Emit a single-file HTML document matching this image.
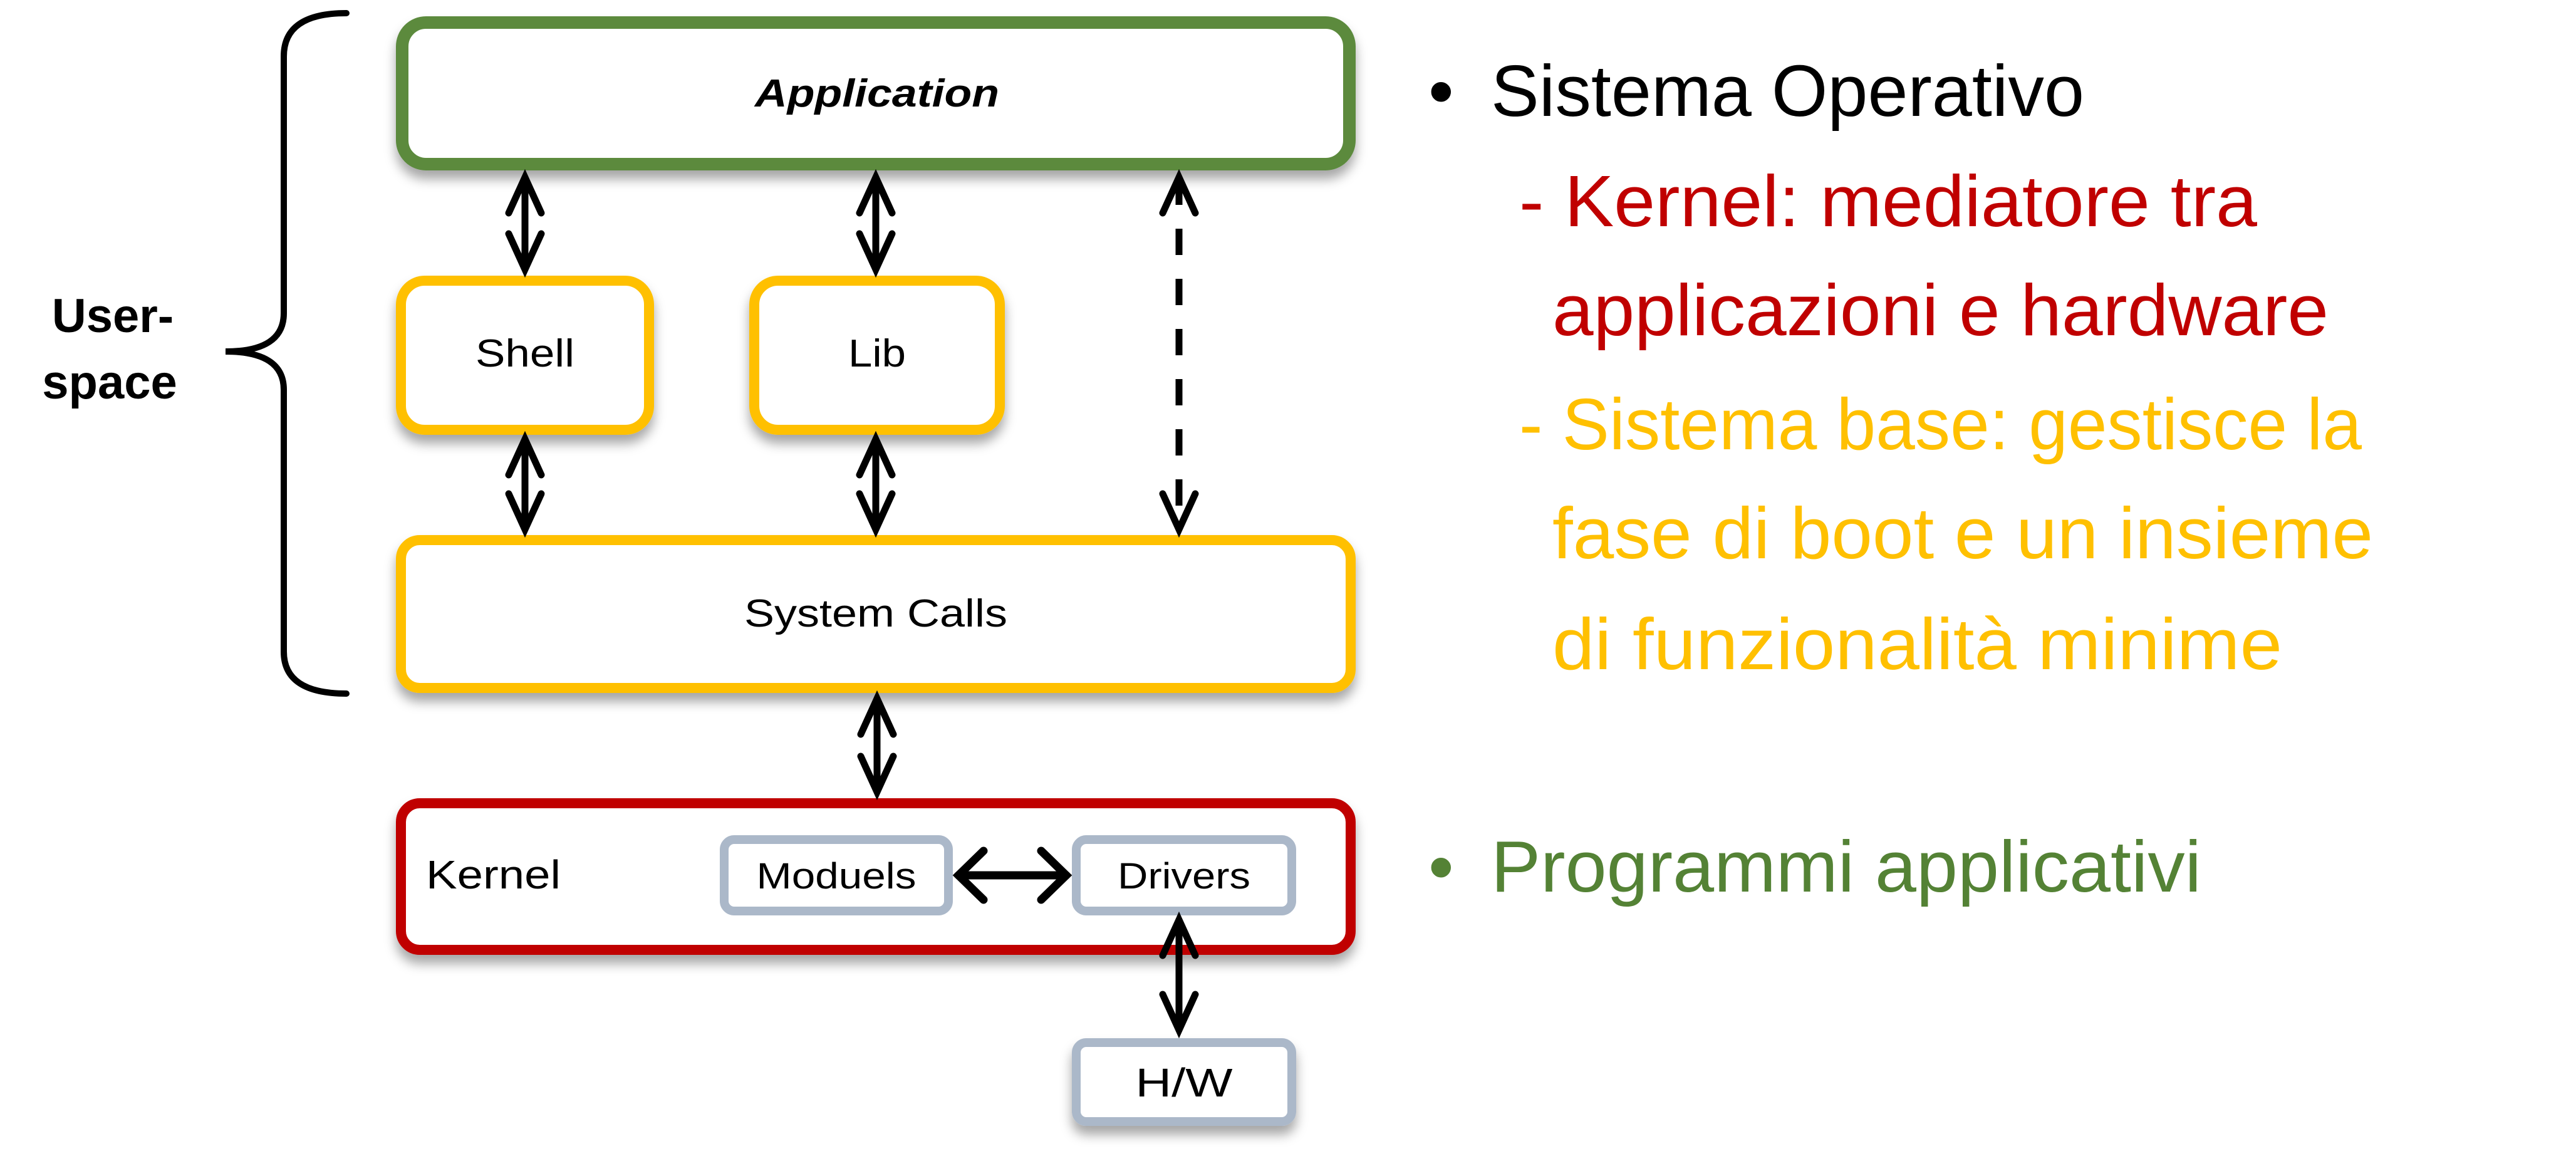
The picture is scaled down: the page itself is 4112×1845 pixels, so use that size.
<!DOCTYPE html>
<html><head><meta charset="utf-8"><style>
html,body{margin:0;padding:0;background:#fff;}
svg{display:block;}
text{font-family:"Liberation Sans",sans-serif;}
</style></head><body>
<svg width="4112" height="1845" viewBox="0 0 4112 1845" xmlns="http://www.w3.org/2000/svg">
<defs>
<filter id="sh" x="-10%" y="-20%" width="120%" height="150%"><feDropShadow dx="0" dy="14" stdDeviation="9" flood-color="#000" flood-opacity="0.35"/></filter>
</defs>
<g filter="url(#sh)">
<rect x="642" y="36" width="1512" height="226" rx="38" fill="#fff" stroke="#5B8A3C" stroke-width="20"/>
<rect x="640" y="448" width="396" height="238" rx="38" fill="#fff" stroke="#FFC000" stroke-width="16"/>
<rect x="1204" y="448" width="392" height="238" rx="38" fill="#fff" stroke="#FFC000" stroke-width="16"/>
<rect x="640" y="862" width="1516" height="236" rx="30" fill="#fff" stroke="#FFC000" stroke-width="16"/>
<rect x="640" y="1282" width="1516" height="234" rx="30" fill="#fff" stroke="#C00000" stroke-width="16"/>
<rect x="1156" y="1340" width="358" height="114" rx="16" fill="#fff" stroke="#ABB8C9" stroke-width="14"/>
<rect x="1718" y="1340" width="344" height="114" rx="16" fill="#fff" stroke="#ABB8C9" stroke-width="14"/>
<rect x="1718" y="1664" width="344" height="126" rx="16" fill="#fff" stroke="#ABB8C9" stroke-width="14"/>
</g>
<g stroke="#000" stroke-width="11" fill="none" stroke-linecap="round" stroke-linejoin="miter">
<line x1="838" y1="285" x2="838" y2="428"/><polyline points="812,340 838,283 864,340"/><polyline points="812,373 838,430 864,373"/>
<line x1="838" y1="703" x2="838" y2="843"/><polyline points="812,758 838,701 864,758"/><polyline points="812,788 838,845 864,788"/>
<line x1="1398" y1="285" x2="1398" y2="428"/><polyline points="1372,340 1398,283 1424,340"/><polyline points="1372,373 1398,430 1424,373"/>
<line x1="1398" y1="703" x2="1398" y2="843"/><polyline points="1372,758 1398,701 1424,758"/><polyline points="1372,788 1398,845 1424,788"/>
<line x1="1400" y1="1117" x2="1400" y2="1262"/><polyline points="1374,1172 1400,1115 1426,1172"/><polyline points="1374,1207 1400,1264 1426,1207"/>
<line x1="1882" y1="285" x2="1882" y2="843" stroke-dasharray="42,38" stroke-linecap="butt"/><polyline points="1856,340 1882,283 1908,340"/><polyline points="1856,788 1882,845 1908,788"/>
<line x1="1882" y1="1470" x2="1882" y2="1642"/><polyline points="1856,1525 1882,1468 1908,1525"/><polyline points="1856,1587 1882,1644 1908,1587"/>
<line x1="1530" y1="1397" x2="1702" y2="1397" stroke-width="13"/><polyline points="1570,1358 1530,1397 1570,1436" stroke-width="13"/><polyline points="1662,1358 1702,1397 1662,1436" stroke-width="13"/>
<path d="M553,21 Q453,21 453,90 L453,500 Q453,561 360,561 Q453,561 453,622 L453,1040 Q453,1107 553,1107" stroke-width="10"/>
</g>
<g fill="#000" text-anchor="middle">
<text x="1400" y="170" font-size="62" font-weight="bold" font-style="italic" textLength="390" lengthAdjust="spacingAndGlyphs">Application</text>
<text x="838" y="585" font-size="62" textLength="158" lengthAdjust="spacingAndGlyphs">Shell</text>
<text x="1400" y="585" font-size="62" textLength="92" lengthAdjust="spacingAndGlyphs">Lib</text>
<text x="1398" y="1000" font-size="62" textLength="420" lengthAdjust="spacingAndGlyphs">System Calls</text>
<text x="1335" y="1418" font-size="58" textLength="255" lengthAdjust="spacingAndGlyphs">Moduels</text>
<text x="1890" y="1418" font-size="58" textLength="212" lengthAdjust="spacingAndGlyphs">Drivers</text>
<text x="1890" y="1750" font-size="64" textLength="155" lengthAdjust="spacingAndGlyphs">H/W</text>
<text x="180" y="530" font-size="76" font-weight="bold">User-</text>
<text x="175" y="636" font-size="76" font-weight="bold">space</text>
</g>
<text x="680" y="1418" font-size="64" textLength="215" lengthAdjust="spacingAndGlyphs">Kernel</text>
<g font-size="116">
<text x="2280" y="185" fill="#000">•</text>
<text x="2380" y="185" fill="#000" textLength="947" lengthAdjust="spacingAndGlyphs">Sistema Operativo</text>
<text x="2425" y="361" fill="#C00000" textLength="1178" lengthAdjust="spacingAndGlyphs">- Kernel: mediatore tra</text>
<text x="2478" y="535" fill="#C00000" textLength="1239" lengthAdjust="spacingAndGlyphs">applicazioni e hardware</text>
<text x="2425" y="717" fill="#FFC000" textLength="1345" lengthAdjust="spacingAndGlyphs">- Sistema base: gestisce la</text>
<text x="2478" y="891" fill="#FFC000" textLength="1310" lengthAdjust="spacingAndGlyphs">fase di boot e un insieme</text>
<text x="2478" y="1068" fill="#FFC000" textLength="1165" lengthAdjust="spacingAndGlyphs">di funzionalità minime</text>
<text x="2280" y="1423" fill="#548235">•</text>
<text x="2380" y="1423" fill="#548235" textLength="1134" lengthAdjust="spacingAndGlyphs">Programmi applicativi</text>
</g>
</svg>
</body></html>
